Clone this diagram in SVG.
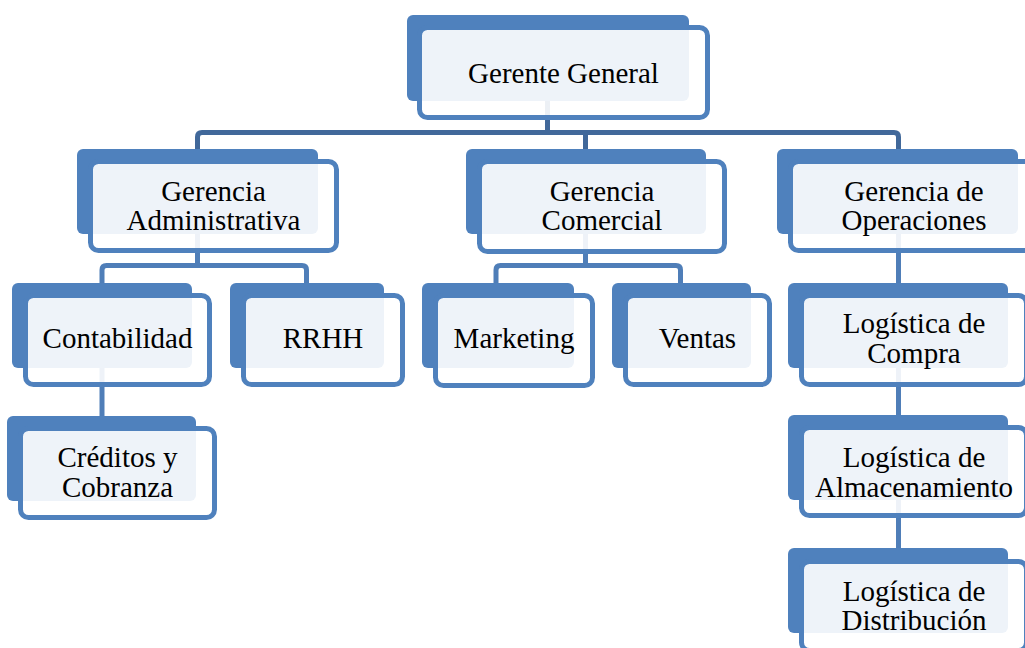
<svg xmlns="http://www.w3.org/2000/svg" width="1025" height="648" viewBox="0 0 1025 648">
<style>
.back{fill:#4F81BD}
.front{fill:#FFFFFF;fill-opacity:0.9;stroke:#4F81BD;stroke-width:5}
.t{font-family:"Liberation Serif","Times New Roman",serif;font-size:29px;fill:#000;text-anchor:middle}
.c1{fill:none;stroke:#41689A;stroke-width:5}
.c2{fill:none;stroke:#4F7EB8;stroke-width:5}
</style>
<rect width="1025" height="648" fill="#FFFFFF"/>
<g id="connectors">
<path class="c1" d="M547.5,101 V132.5"/>
<path class="c1" d="M197.5,149 V137 Q197.5,132.5 202,132.5 H894 Q898.5,132.5 898.5,137 V149"/>
<path class="c1" d="M585.5,132.5 V149"/>
<path class="c2" d="M197.5,234 V265.5"/>
<path class="c2" d="M102,283 V270 Q102,265.5 106.5,265.5 H302 Q306.5,265.5 306.5,270 V283"/>
<path class="c2" d="M102,368 V416"/>
<path class="c2" d="M585.5,234 V265.5"/>
<path class="c2" d="M496,283 V270 Q496,265.5 500.5,265.5 H676 Q680.5,265.5 680.5,270 V283"/>
<path class="c2" d="M898.5,234 V283"/>
<path class="c2" d="M898.5,368 V415"/>
<path class="c2" d="M898.5,500 V548"/>
</g>
<g id="gerente-general">
<rect class="back" x="407" y="15" width="282" height="86" rx="6"/>
<rect class="front" x="419.5" y="27.5" width="288" height="90" rx="8"/>
<text class="t" x="563.5" y="83">Gerente General</text>
</g>
<g id="gerencia-administrativa">
<rect class="back" x="77" y="149" width="241" height="85" rx="6"/>
<rect class="front" x="90.5" y="161.5" width="246" height="89" rx="8"/>
<text class="t" x="213.5" y="201">Gerencia</text>
<text class="t" x="213.5" y="230">Administrativa</text>
</g>
<g id="gerencia-comercial">
<rect class="back" x="466" y="149" width="240" height="85" rx="6"/>
<rect class="front" x="479.5" y="161.5" width="245" height="90" rx="8"/>
<text class="t" x="602" y="201">Gerencia</text>
<text class="t" x="602" y="230">Comercial</text>
</g>
<g id="gerencia-operaciones">
<rect class="back" x="777" y="149" width="241" height="85" rx="6"/>
<rect class="front" x="790.5" y="161.5" width="247" height="89" rx="8"/>
<text class="t" x="914" y="201">Gerencia de</text>
<text class="t" x="914" y="230">Operaciones</text>
</g>
<g id="contabilidad">
<rect class="back" x="12" y="283" width="180" height="85" rx="6"/>
<rect class="front" x="25.5" y="295.5" width="184" height="89" rx="8"/>
<text class="t" x="117.5" y="348">Contabilidad</text>
</g>
<g id="rrhh">
<rect class="back" x="230" y="283" width="154" height="85" rx="6"/>
<rect class="front" x="243.5" y="295.5" width="159" height="89" rx="8"/>
<text class="t" x="323" y="348">RRHH</text>
</g>
<g id="marketing">
<rect class="back" x="422" y="283" width="152" height="85" rx="6"/>
<rect class="front" x="435.5" y="295.5" width="157" height="90" rx="8"/>
<text class="t" x="514" y="348">Marketing</text>
</g>
<g id="ventas">
<rect class="back" x="612" y="283" width="139" height="85" rx="6"/>
<rect class="front" x="625.5" y="295.5" width="144" height="89" rx="8"/>
<text class="t" x="697.5" y="348">Ventas</text>
</g>
<g id="logistica-compra">
<rect class="back" x="788" y="283" width="220" height="85" rx="6"/>
<rect class="front" x="801.5" y="295.5" width="225" height="89" rx="8"/>
<text class="t" x="914" y="333">Logística de</text>
<text class="t" x="914" y="363">Compra</text>
</g>
<g id="creditos-cobranza">
<rect class="back" x="7" y="416" width="189" height="85" rx="6"/>
<rect class="front" x="20.5" y="428.5" width="194" height="89" rx="8"/>
<text class="t" x="117.5" y="467">Créditos y</text>
<text class="t" x="117.5" y="497">Cobranza</text>
</g>
<g id="logistica-almacenamiento">
<rect class="back" x="788" y="415" width="220" height="85" rx="6"/>
<rect class="front" x="801.5" y="427.5" width="225" height="88" rx="8"/>
<text class="t" x="914" y="467">Logística de</text>
<text class="t" x="914" y="497">Almacenamiento</text>
</g>
<g id="logistica-distribucion">
<rect class="back" x="788" y="548" width="220" height="85" rx="6"/>
<rect class="front" x="801.5" y="561.5" width="225" height="89" rx="8"/>
<text class="t" x="914" y="601">Logística de</text>
<text class="t" x="914" y="630">Distribución</text>
</g>
</svg>
